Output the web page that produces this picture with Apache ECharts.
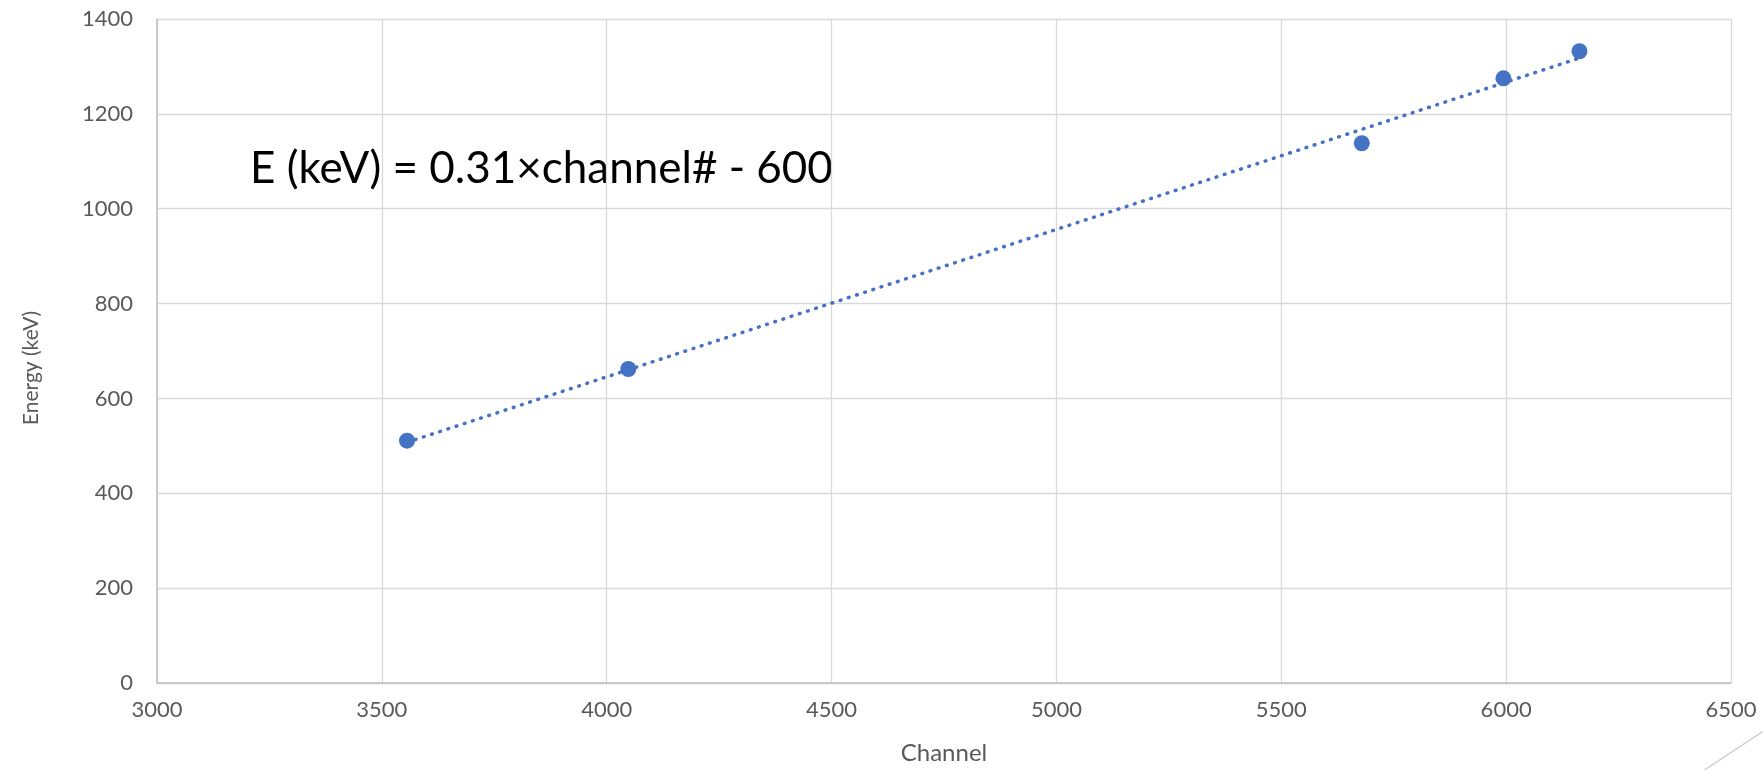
<!DOCTYPE html>
<html>
<head>
<meta charset="utf-8">
<script src="https://cdn.jsdelivr.net/npm/echarts@6/dist/echarts.min.js"></script>
<style>
html,body{margin:0;padding:0;background:#fff;}
#chart{width:1763px;height:770px;}
</style>
</head>
<body>
<div id="chart"></div>
<script>
// Data
const channels = [3556, 4048, 5679, 5994, 6163];
const energies = [511, 662, 1138, 1275, 1332];
const xTicks = [3000, 3500, 4000, 4500, 5000, 5500, 6000, 6500];
const yTicks = [0, 200, 400, 600, 800, 1000, 1200, 1400];
const equationText = 'E (keV) = 0.31×channel# - 600';
const xTitle = 'Channel';
const yTitle = 'Energy (keV)';

// Linear least-squares trendline (like Excel's linear trendline)
const n = channels.length;
const mx = channels.reduce((a, b) => a + b, 0) / n;
const my = energies.reduce((a, b) => a + b, 0) / n;
let sxy = 0, sxx = 0;
for (let i = 0; i < n; i++) {
  sxy += (channels[i] - mx) * (energies[i] - my);
  sxx += (channels[i] - mx) * (channels[i] - mx);
}
const slope = sxy / sxx;
const intercept = my - slope * mx;
const xMin = Math.min(...channels), xMax = Math.max(...channels);
const trend = [[xMin, slope * xMin + intercept], [xMax, slope * xMax + intercept]];

const points = channels.map((c, i) => [c, energies[i]]);

const FONT = 'Lato';
const chart = echarts.init(document.getElementById('chart'), null, {renderer: 'canvas'});
chart.setOption({
  animation: false,
  backgroundColor: '#ffffff',
  grid: {left: 157, right: 32, top: 19, bottom: 84, containLabel: false},
  xAxis: {
    type: 'value',
    min: xTicks[0], max: xTicks[xTicks.length - 1], interval: 500,
    name: xTitle, nameLocation: 'middle', nameGap: 58,
    nameTextStyle: {fontFamily: FONT, fontSize: 24, color: '#595959'},
    axisLine: {show: true, lineStyle: {color: '#BFBFBF', width: 1.5}},
    axisTick: {show: false},
    axisLabel: {fontFamily: FONT, fontSize: 22, color: '#595959', margin: 16, formatter: v => String(v)},
    splitLine: {show: true, lineStyle: {color: '#D9D9D9', width: 1.3}}
  },
  yAxis: {
    type: 'value',
    min: yTicks[0], max: yTicks[yTicks.length - 1], interval: 200,
    name: yTitle, nameLocation: 'middle', nameGap: 115, nameRotate: 90,
    nameTextStyle: {fontFamily: FONT, fontSize: 21, color: '#595959', padding: [0, 34, 0, 0]},
    axisLine: {show: true, lineStyle: {color: '#BFBFBF', width: 1.5}},
    axisTick: {show: false},
    axisLabel: {fontFamily: FONT, fontSize: 22, color: '#595959', margin: 24, formatter: v => String(v)},
    splitLine: {show: true, lineStyle: {color: '#D9D9D9', width: 1.3}}
  },
  series: [
    {
      type: 'line',
      data: trend,
      symbol: 'none',
      z: 2,
      lineStyle: {color: '#4472C4', width: 3.5, type: [0.8, 7.8], cap: 'round'}
    },
    {
      type: 'scatter',
      data: points,
      symbol: 'circle',
      symbolSize: 16,
      z: 3,
      itemStyle: {color: '#4472C4', opacity: 1}
    }
  ],
  graphic: [
    {
      type: 'text',
      left: 250, top: 147,
      style: {text: equationText, fontFamily: FONT, fontSize: 44, fill: '#000000'}
    },
    {
      type: 'line',
      shape: {x1: 1703, y1: 771, x2: 1765, y2: 730},
      style: {stroke: '#D0D0D0', lineWidth: 1.5}
    }
  ]
});
</script>
</body>
</html>
